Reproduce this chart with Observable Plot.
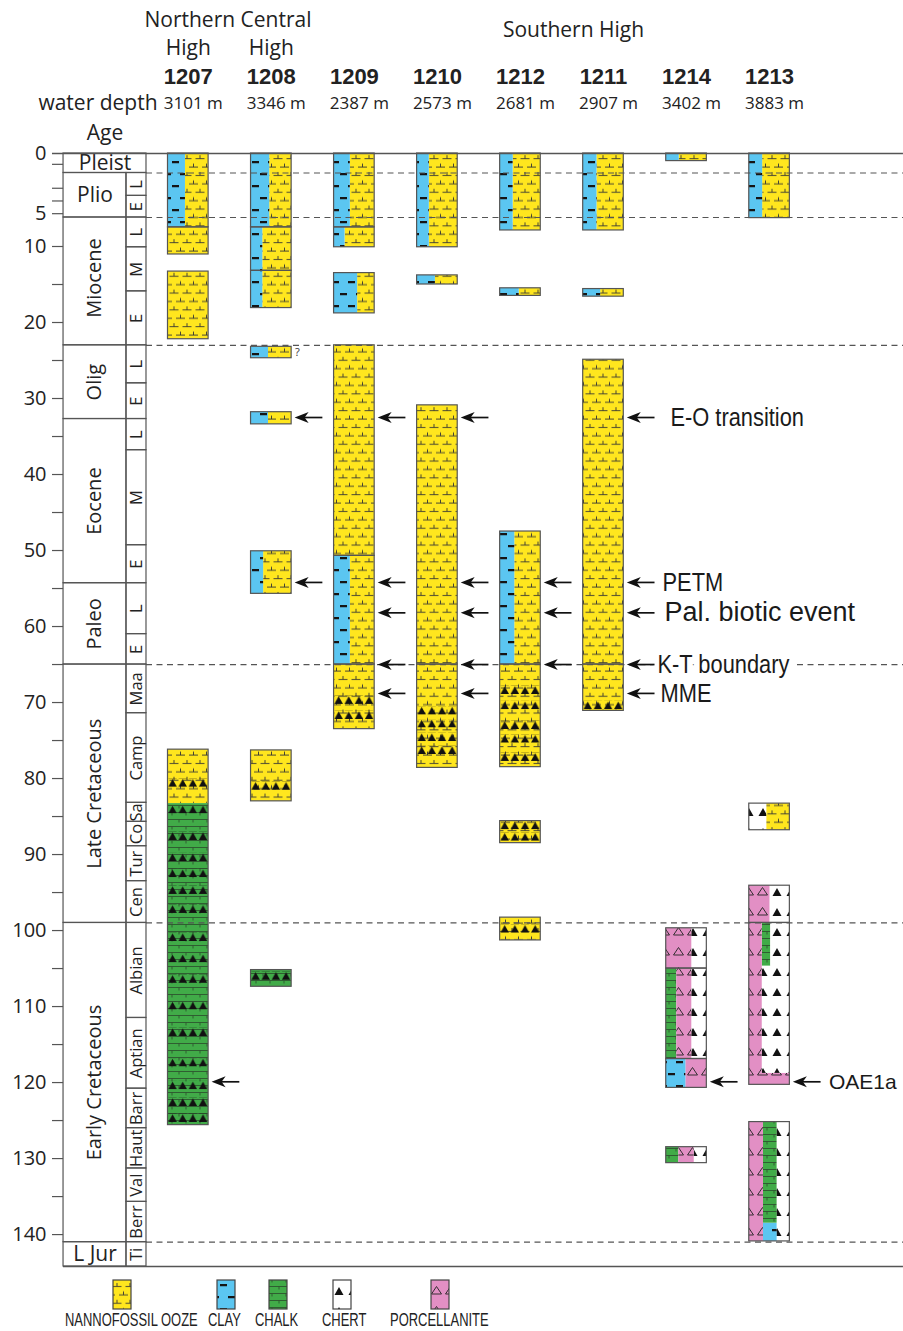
<!DOCTYPE html>
<html><head><meta charset="utf-8">
<script src="https://cdn.jsdelivr.net/npm/d3@7"></script>
<script src="https://cdn.jsdelivr.net/npm/@observablehq/plot@0.6"></script>
<style>
body{margin:0;background:#fff;}
#wrap{position:relative;width:903px;height:1331px;overflow:hidden;background:#fff;}
#chart{position:absolute;left:0;top:0;}
#legend{position:absolute;left:0;top:1270px;width:903px;height:61px;}
.sw{position:absolute;top:9px;}
.lg{position:absolute;top:40px;font-family:'Liberation Sans',sans-serif;font-size:18px;color:#222;white-space:nowrap;line-height:20px;transform:scaleX(0.72);transform-origin:left center;}
</style></head><body><div id="wrap"><div id="chart"></div><div id="legend"></div></div>
<script>
// ---------------- DATA ----------------
const sites = ["1207","1208","1209","1210","1212","1211","1214","1213"];
const depths = ["3101 m","3346 m","2387 m","2573 m","2681 m","2907 m","3402 m","3883 m"];
const tickAges = [1,3,4,5,10,15,20,25,30,35,40,45,50,55,60,65,70,75,80,85,90,95,100,105,110,115,120,125,130,135,140];
const tickLabels = [0,5,10,20,30,40,50,60,70,80,90,100,110,120,130,140];
const boundaryAges = [1.8,5.3,23,65,99,141];
// epoch: name, top age, base age
const epochs = [["Pleist",0,1.8],["Plio",1.8,5.3],["Miocene",5.3,23],["Olig",23,32.7],["Eocene",32.7,54.3],["Paleo",54.3,65],["Late Cretaceous",65,99],["Early Cretaceous",99,141],["L Jur",141,144.2]];
const horizontalEpochs = ["Pleist","Plio","L Jur"];
const fullWidthEpochs = ["Pleist"];
const stages = [["L",1.8,3.6],["E",3.6,5.3],["L",5.3,10.1],["M",10.1,15.9],["E",15.9,23],["L",23,28],["E",28,32.7],["L",32.7,36.8],["M",36.8,49.3],["E",49.3,54.3],["L",54.3,61],["E",61,65],["Maa",65,71.4],["Camp",71.4,83.2],["Sa",83.2,85.7],["Co",85.7,88.9],["Tur",88.9,93.5],["Cen",93.5,99],["Albian",99,111.5],["Aptian",111.5,120.8],["Barr",120.8,126],["Haut",126,131.3],["Val",131.3,135.7],["Berr",135.7,141],["Ti",141,144.2]];
// cored intervals (outlines): site, top, base
const cores = [
 ["1207",0,6.9],["1207",6.9,11.05],["1207",13.3,22.2],["1207",76.2,125.6],
 ["1208",0,6.9],["1208",6.9,13.2],["1208",13.2,18.1],["1208",23.2,24.7],["1208",31.8,33.4],["1208",50.1,55.7],["1208",76.3,83.0],["1208",105.2,107.4],
 ["1209",0,6.9],["1209",6.9,10.1],["1209",13.5,18.8],["1209",23,50.7],["1209",50.7,65],["1209",65,73.5],
 ["1210",0,10.1],["1210",13.8,15.0],["1210",30.9,65],["1210",65,78.6],
 ["1212",0,7.4],["1212",15.5,16.5],["1212",47.5,65],["1212",65,78.5],["1212",85.6,88.5],["1212",98.3,101.3],
 ["1211",0,7.4],["1211",15.6,16.6],["1211",24.9,65],["1211",65,71.1],
 ["1214",0,0.7],["1214",99.7,105],["1214",105,116.9],["1214",116.9,120.7],["1214",128.5,130.6],
 ["1213",0,5.4],["1213",83.3,86.8],["1213",94.1,99],["1213",99,120.3],["1213",125.2,140.9]
];
// lithology units: site, top, base, lithology, from (fraction of column), to
const units = [
 ["1207",0,6.9,"clay",0,0.43],["1207",0,6.9,"ooze",0.43,1],["1207",6.9,11.05,"ooze",0,1],["1207",13.3,22.2,"ooze",0,1],["1207",76.2,83.3,"ooze",0,1],["1207",83.3,125.6,"chalk",0,1],
 ["1208",0,6.9,"clay",0,0.46],["1208",0,6.9,"ooze",0.46,1],["1208",6.9,13.2,"clay",0,0.29],["1208",6.9,13.2,"ooze",0.29,1],["1208",13.2,18.1,"clay",0,0.29],["1208",13.2,18.1,"ooze",0.29,1],["1208",23.2,24.7,"clay",0,0.43],["1208",23.2,24.7,"ooze",0.43,1],["1208",31.8,33.4,"clay",0,0.43],["1208",31.8,33.4,"ooze",0.43,1],["1208",50.1,55.7,"clay",0,0.31],["1208",50.1,55.7,"ooze",0.31,1],["1208",76.3,83.0,"ooze",0,1],["1208",105.2,107.4,"chalk",0,1],
 ["1209",0,6.9,"clay",0,0.40],["1209",0,6.9,"ooze",0.40,1],["1209",6.9,10.1,"clay",0,0.27],["1209",6.9,10.1,"ooze",0.27,1],["1209",13.5,18.8,"clay",0,0.58],["1209",13.5,18.8,"ooze",0.58,1],["1209",23,50.7,"ooze",0,1],["1209",50.7,65,"clay",0,0.4],["1209",50.7,65,"ooze",0.4,1],["1209",65,73.5,"ooze",0,1],
 ["1210",0,10.1,"clay",0,0.30],["1210",0,10.1,"ooze",0.30,1],["1210",13.8,15.0,"clay",0,0.45],["1210",13.8,15.0,"ooze",0.45,1],["1210",30.9,78.6,"ooze",0,1],
 ["1212",0,7.4,"clay",0,0.32],["1212",0,7.4,"ooze",0.32,1],["1212",15.5,16.5,"clay",0,0.47],["1212",15.5,16.5,"ooze",0.47,1],["1212",47.5,65,"clay",0,0.36],["1212",47.5,65,"ooze",0.36,1],["1212",65,78.5,"ooze",0,1],["1212",85.6,88.5,"ooze",0,1],["1212",98.3,101.3,"ooze",0,1],
 ["1211",0,7.4,"clay",0,0.34],["1211",0,7.4,"ooze",0.34,1],["1211",15.6,16.6,"clay",0,0.43],["1211",15.6,16.6,"ooze",0.43,1],["1211",24.9,71.1,"ooze",0,1],
 ["1214",0,0.7,"clay",0,0.32],["1214",0,0.7,"ooze",0.32,1],["1214",99.7,105,"porc",0,0.63],["1214",99.7,105,"chert",0.63,1],["1214",105,116.9,"chalk",0,0.26],["1214",105,116.9,"porc",0.26,0.63],["1214",105,116.9,"chert",0.63,1],["1214",116.9,120.7,"clay",0,0.49],["1214",116.9,120.7,"porc",0.49,1],["1214",128.5,130.6,"chalk",0,0.31],["1214",128.5,130.6,"porc",0.31,0.69],["1214",128.5,130.6,"chert",0.69,1],
 ["1213",0,5.4,"clay",0,0.33],["1213",0,5.4,"ooze",0.33,1],["1213",83.3,86.8,"chert",0,0.43],["1213",83.3,86.8,"ooze",0.43,1],["1213",94.1,99,"porc",0,0.51],["1213",94.1,99,"chert",0.51,1],["1213",99,118.8,"porc",0,0.32],["1213",99,104.7,"chalk",0.32,0.53],["1213",99,104.7,"chert",0.53,1],["1213",104.7,118.8,"chert",0.32,1],["1213",118.8,120.3,"porc",0,1],["1213",125.2,140.9,"porc",0,0.35],["1213",125.2,138.5,"chalk",0.35,0.69],["1213",138.5,140.9,"clay",0.35,0.69],["1213",125.2,140.9,"chert",0.69,1]
];
// chert beds within ooze / chalk: site, age of bed
const chertBeds = [
 ["1207",80.6],["1207",84.1],["1207",87.6],["1207",90.4],["1207",92.5],["1207",94.7],["1207",97.2],["1207",100.9],["1207",103.7],["1207",106.4],["1207",109.9],["1207",113.4],["1207",117.4],["1207",120.4],["1207",122.6],["1207",124.7],
 ["1208",81.0],["1208",106.0],
 ["1209",69.7],["1209",71.7],
 ["1210",71.1],["1210",72.8],["1210",74.6],["1210",76.3],
 ["1212",68.4],["1212",70.4],["1212",73.0],["1212",74.8],["1212",77.2],["1212",86.2],["1212",87.7],["1212",99.8],
 ["1211",70.4]
];
const arrows = [["1207",119.9],["1208",32.5],["1208",54.2],
 ["1209",32.5],["1209",54.2],["1209",58.2],["1209",65],["1209",68.8],
 ["1210",32.5],["1210",54.2],["1210",58.2],["1210",65],["1210",68.8],
 ["1212",54.2],["1212",58.2],["1212",65],
 ["1211",32.5],["1211",54.2],["1211",58.2],["1211",65],["1211",68.8],
 ["1214",119.9],["1213",119.9]];
const events = [["E-O transition","1211",32.5],["PETM","1211",54.2],["Pal. biotic event","1211",58.2],["K-T boundary","1211",65],["MME","1211",68.8],["OAE1a","1213",119.9]];
const legendItems = [["NANNOFOSSIL OOZE","ooze"],["CLAY","clay"],["CHALK","chalk"],["CHERT","chert"],["PORCELLANITE","porc"]];

// ---------------- LAYOUT / STYLE ----------------
// the time axis of the figure is stretched in the Plio-Pleistocene: piecewise age -> display position
const agePos = d3.scaleLinear().domain([0,1.8,5.3,10,144.2]).range([0,2.566,8.421,12.237,146.45]);
const LY = {W:0.489, axL:-1.391, ageX0:-1.258, ageX1:-0.5, ageX2:-0.259, right:8.857, tickLabX:-1.463, tip:0.036, tail:0.37, bedHalf:0.55};
const labelOffset = {"E-O transition":0.562,"PETM":0.466,"Pal. biotic event":0.49,"K-T boundary":0.406,"MME":0.442,"OAE1a":0.47};
const labelSize = {"E-O transition":26,"PETM":26,"K-T boundary":26,"MME":26,"OAE1a":21,"Pal. biotic event":27};
const narrowLabels = ["E-O transition","PETM","K-T boundary","MME"];
const haloLabels = ["K-T boundary"];
const COL = {ooze:"#FFE61E", clay:"#5BC6F1", chalk:"#41AB48", chert:"#FFFFFF", porc:"#E28FC4"};
const legendLayout = {swatch:[112,216,268,332,430], label:[65,208,255,322,390]};
const SANS = "'Open Sans', sans-serif";
const HELV = "'Liberation Sans', Arial, sans-serif";
const LINE = "#555";
const INK = "#222";
// barbed arrowhead pointing left, tip at the origin
const arrowHead = {draw(ctx) { ctx.moveTo(0, 0); ctx.lineTo(14, -5.5); ctx.lineTo(10, 0); ctx.lineTo(14, 5.5); ctx.closePath(); }};

const si = s => sites.indexOf(s);
const W = LY.W;
const Y = a => agePos(a);

const marks = [];
for (const lith of ["ooze","clay","chalk","chert","porc"]) {
  marks.push(Plot.rect(units.filter(d => d[3] === lith), {
    x1: d => si(d[0]) + d[4]*W, x2: d => si(d[0]) + d[5]*W,
    y1: d => Y(d[1]), y2: d => Y(d[2]), fill: `url(#p-${lith})`
  }));
}
marks.push(Plot.rect(chertBeds, {x1: d => si(d[0]), x2: d => si(d[0]) + W, y1: d => Y(d[1]-LY.bedHalf), y2: d => Y(d[1]+LY.bedHalf), fill: "url(#p-bed)"}));
marks.push(Plot.rect(cores, {x1: d => si(d[0]), x2: d => si(d[0]) + W, y1: d => Y(d[1]), y2: d => Y(d[2]), fill: "none", stroke: LINE, strokeWidth: 1.2}));

// age column
marks.push(Plot.rect(epochs, {x1: () => LY.ageX0, x2: d => fullWidthEpochs.includes(d[0]) ? LY.ageX2 : LY.ageX1, y1: d => Y(d[1]), y2: d => Y(d[2]), fill: "none", stroke: LINE, strokeWidth: 1.2}));
marks.push(Plot.rect(stages, {x1: () => LY.ageX1, x2: () => LY.ageX2, y1: d => Y(d[1]), y2: d => Y(d[2]), fill: "none", stroke: LINE, strokeWidth: 1.2}));
marks.push(Plot.text(epochs.filter(d => !horizontalEpochs.includes(d[0])), {x: () => (LY.ageX0+LY.ageX1)/2, y: d => Y((d[1]+d[2])/2), text: d => d[0], rotate: -90, fontSize: 20, fontFamily: SANS, fill: INK}));
marks.push(Plot.text(epochs.filter(d => horizontalEpochs.includes(d[0])), {x: d => fullWidthEpochs.includes(d[0]) ? (LY.ageX0+LY.ageX2)/2 : (LY.ageX0+LY.ageX1)/2, y: d => Y((d[1]+d[2])/2), text: d => d[0], fontSize: 21, fontFamily: SANS, fill: INK}));
marks.push(Plot.text(stages, {x: () => (LY.ageX1+LY.ageX2)/2, y: d => Y((d[1]+d[2])/2), text: d => d[0], rotate: -90, fontSize: 16.5, fontFamily: SANS, fill: INK}));
marks.push(Plot.ruleY(tickAges, {y: d => Y(d), x1: () => LY.axL, x2: () => LY.ageX0, stroke: LINE, strokeWidth: 1.2}));
marks.push(Plot.text(tickLabels, {y: d => Y(d), x: () => LY.tickLabX, text: d => String(d), textAnchor: "end", fontSize: 20, fontFamily: SANS, fill: INK}));
marks.push(Plot.ruleY([epochs[0][1]], {y: d => Y(d), x1: () => LY.axL, x2: () => LY.right, stroke: LINE, strokeWidth: 1.3}));
marks.push(Plot.ruleY([epochs[epochs.length-1][2]], {y: d => Y(d), x1: () => LY.ageX0, x2: () => LY.right, stroke: LINE, strokeWidth: 1.3}));
marks.push(Plot.ruleY(boundaryAges, {y: d => Y(d), x1: () => LY.ageX2, x2: () => LY.right, stroke: "#555", strokeWidth: 1.2, strokeDasharray: "6,4.5"}));

// events (a white halo hides the dashed K-T line behind its label)
const evX = d => si(d[1]) + W + labelOffset[d[0]];
marks.push(Plot.text(events.filter(d => haloLabels.includes(d[0])), {x: evX, y: d => Y(d[2]), text: d => d[0], textAnchor: "start",
  fontFamily: HELV, fontSize: d => labelSize[d[0]], fill: "#1a1a1a", stroke: "white", strokeWidth: 14, paintOrder: "stroke"}));
marks.push(Plot.text(events.filter(d => !haloLabels.includes(d[0])), {x: evX, y: d => Y(d[2]), text: d => d[0], textAnchor: "start",
  fontFamily: HELV, fontSize: d => labelSize[d[0]], fill: "#1a1a1a"}));
marks.push(Plot.link(arrows, {x1: d => si(d[0]) + W + LY.tail, x2: d => si(d[0]) + W + LY.tip + 0.1, y1: d => Y(d[1]), y2: d => Y(d[1]), stroke: "#111", strokeWidth: 1.7}));
marks.push(Plot.dot(arrows, {x: d => si(d[0]) + W + LY.tip, y: d => Y(d[1]), symbol: arrowHead, fill: "#111", stroke: "none"}));
marks.push(Plot.text(["?"], {x: () => si("1208") + W + 0.07, y: () => Y(24), text: d => d, fontSize: 11, fontFamily: SANS, fill: "#333"}));

// header
const hdr = {frameAnchor: "top", lineAnchor: "middle", fontFamily: SANS, fill: INK};
marks.push(Plot.text(["Northern Central"], {...hdr, x: () => 0.7225, dy: -133, text: d => d, fontSize: 21}));
marks.push(Plot.text(["1207","1208"], {...hdr, x: d => si(d) + W/2, dy: -105, text: () => "High", fontSize: 21}));
marks.push(Plot.text(["Southern High"], {...hdr, x: () => 4.883, dy: -123, text: d => d, fontSize: 21}));
marks.push(Plot.text(sites, {...hdr, x: d => si(d) + W/2, dy: -77, text: d => d, fontSize: 22, fontWeight: "bold", fontFamily: HELV}));
marks.push(Plot.text(depths, {...hdr, x: (d, i) => i + W/2, dy: -50, dx: 5, text: d => d, fontSize: 17}));
marks.push(Plot.text(["water depth"], {...hdr, x: () => -0.126, dy: -50, text: d => d, textAnchor: "end", fontSize: 21}));
marks.push(Plot.text(["Age"], {...hdr, x: () => (LY.ageX0+LY.ageX2)/2, dy: -20, text: d => d, fontSize: 21}));

const chart = Plot.plot({
  width: 903, height: 1270,
  marginTop: 153, marginBottom: 4, marginLeft: 0, marginRight: 0,
  x: {domain: [0, 8], range: [167.5, 831.8], axis: null},
  y: {domain: [0, agePos(144.2)], range: [153, 1266], axis: null},
  style: {fontFamily: SANS, background: "white", overflow: "visible"},
  marks
});

// patterns
const defs = d3.select(chart).insert("defs", ":first-child");
function pat(id, w, h, bg, d, stroke, fill, sw) {
  const p = defs.append("pattern").attr("id", id).attr("patternUnits", "userSpaceOnUse").attr("width", w).attr("height", h);
  p.append("rect").attr("width", w).attr("height", h).attr("fill", bg);
  p.append("path").attr("d", d).attr("stroke", stroke || "none").attr("stroke-width", sw || 0.9).attr("fill", fill || "none");
  return p;
}
pat("p-ooze", 26, 16.8, COL.ooze, "M0.5,7.5H9.5M5,4V7.5M13.5,7.5H22.5M18,4V7.5M7,15.9H16M11.5,12.4V15.9M20,15.9H26M0,15.9H3M24.5,12.4V15.9", "#333");
pat("p-clay", 16, 24, COL.clay, "M4,5h7v2.2h-7zM12,17h4v2.2h-4zM0,17h3v2.2h-3z", "none", "#151515");
pat("p-chalk", 14, 14, COL.chalk, "M0,0.5H14M0,7.5H14M4,0.5V3.5M11,7.5V10.5", "#2b4a2b", "none", 0.8);
pat("p-chert", 14, 20, "#ffffff", "M2.5,16L7,8L11.5,16Z", "none", "#111");
pat("p-porc", 14, 20, COL.porc, "M1.5,15L6.5,7.5L11.5,15Z", "#222", "none", 0.9);
const bed = defs.append("pattern").attr("id", "p-bed").attr("patternUnits", "objectBoundingBox").attr("width", 0.25).attr("height", 1).attr("viewBox", "0 0 10 10").attr("preserveAspectRatio", "none");
bed.append("path").attr("d", "M0.8,10L5,0.8L9.2,10Z").attr("fill", "#111");

document.getElementById("chart").appendChild(chart);

// condensed look for the event labels (Helvetica Condensed in the original)
chart.querySelectorAll("text").forEach(t => {
  if (narrowLabels.includes(t.textContent)) {
    const len = t.getComputedTextLength();
    t.setAttribute("textLength", (len * 0.84).toFixed(1));
    t.setAttribute("lengthAdjust", "spacingAndGlyphs");
  }
});

// legend
const lg = document.getElementById("legend");
legendItems.forEach(([label, lith], i) => {
  const s = document.createElementNS("http://www.w3.org/2000/svg", "svg");
  s.setAttribute("class", "sw"); s.setAttribute("width", 20); s.setAttribute("height", 31);
  s.style.left = legendLayout.swatch[i] + "px";
  const r = document.createElementNS("http://www.w3.org/2000/svg", "rect");
  r.setAttribute("x", 1); r.setAttribute("y", 1); r.setAttribute("width", 18); r.setAttribute("height", 29);
  r.setAttribute("fill", `url(#p-${lith})`); r.setAttribute("stroke", "#444"); r.setAttribute("stroke-width", 1.2);
  s.appendChild(r); lg.appendChild(s);
  const t = document.createElement("div"); t.className = "lg"; t.textContent = label; t.style.left = legendLayout.label[i] + "px";
  lg.appendChild(t);
});
</script></body></html>
